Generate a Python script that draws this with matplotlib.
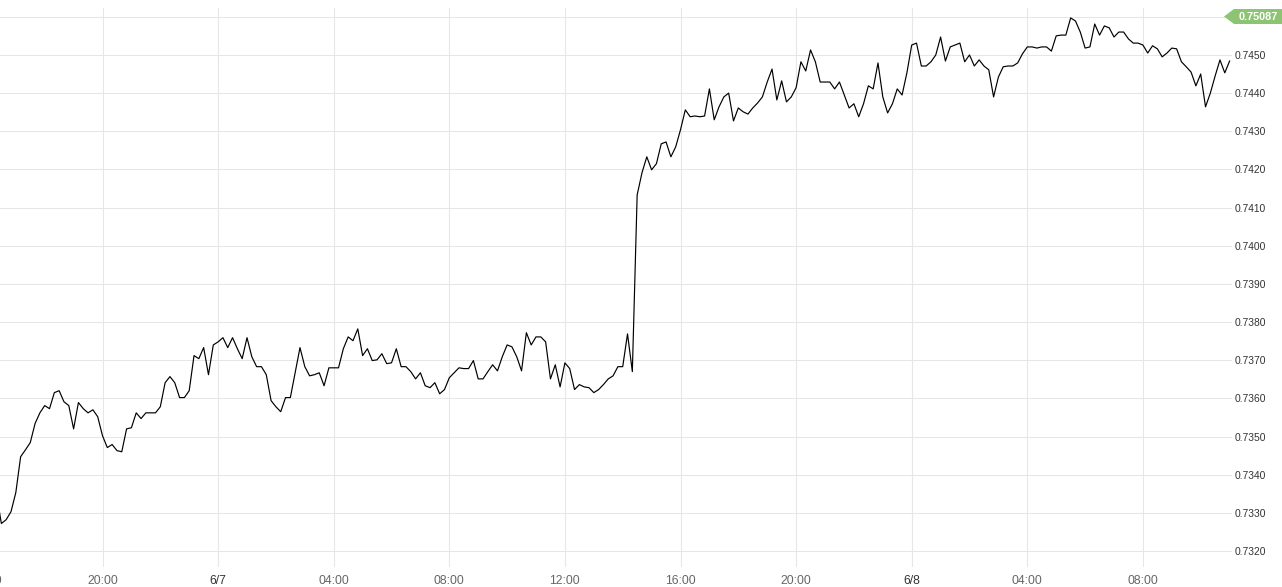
import matplotlib.pyplot as plt
from matplotlib.patches import Polygon

# 10-minute closes, starting 6/6 16:20
start_hour = 16 + 20 / 60
prices = [
    0.73348, 0.73272, 0.73282, 0.73303, 0.73353, 0.73447, 0.73465, 0.73484, 0.73534, 0.73562,
    0.73581, 0.73573, 0.73615, 0.73620, 0.73591, 0.73581, 0.73520, 0.73589, 0.73573, 0.73562,
    0.73570, 0.73552, 0.73502, 0.73471, 0.73479, 0.73463, 0.73460, 0.73520, 0.73523, 0.73562,
    0.73547, 0.73562, 0.73562, 0.73562, 0.73578, 0.73641, 0.73657, 0.73641, 0.73602, 0.73602,
    0.73620, 0.73712, 0.73704, 0.73733, 0.73662, 0.73740, 0.73748, 0.73759, 0.73733, 0.73759,
    0.73730, 0.73704, 0.73759, 0.73709, 0.73683, 0.73683, 0.73662, 0.73594, 0.73578, 0.73565,
    0.73602, 0.73602, 0.73667, 0.73733, 0.73683, 0.73659, 0.73662, 0.73667, 0.73633, 0.73680,
    0.73680, 0.73680, 0.73730, 0.73761, 0.73751, 0.73782, 0.73712, 0.73730, 0.73699, 0.73701,
    0.73717, 0.73691, 0.73693, 0.73730, 0.73683, 0.73683, 0.73670, 0.73651, 0.73667, 0.73633,
    0.73628, 0.73641, 0.73612, 0.73623, 0.73654, 0.73667, 0.73680, 0.73678, 0.73678, 0.73699,
    0.73651, 0.73651, 0.73670, 0.73688, 0.73672, 0.73709, 0.73740, 0.73735, 0.73709, 0.73672,
    0.73772, 0.73740, 0.73761, 0.73761, 0.73748, 0.73651, 0.73688, 0.73630, 0.73693, 0.73678,
    0.73623, 0.73636, 0.73630, 0.73628, 0.73615, 0.73623, 0.73636, 0.73651, 0.73659, 0.73683,
    0.73683, 0.73769, 0.73670, 0.74133, 0.74191, 0.74233, 0.74199, 0.74215, 0.74267, 0.74272,
    0.74233, 0.74259, 0.74304, 0.74356, 0.74338, 0.74340, 0.74338, 0.74340, 0.74411, 0.74330,
    0.74364, 0.74390, 0.74400, 0.74327, 0.74361, 0.74351, 0.74345, 0.74361, 0.74374, 0.74390,
    0.74429, 0.74463, 0.74382, 0.74432, 0.74377, 0.74390, 0.74414, 0.74482, 0.74458, 0.74513,
    0.74482, 0.74429, 0.74429, 0.74429, 0.74411, 0.74429, 0.74395, 0.74361, 0.74372, 0.74338,
    0.74372, 0.74419, 0.74411, 0.74479, 0.74390, 0.74348, 0.74372, 0.74411, 0.74395, 0.74453,
    0.74526, 0.74531, 0.74471, 0.74471, 0.74482, 0.74500, 0.74547, 0.74484, 0.74521, 0.74526,
    0.74531, 0.74482, 0.74500, 0.74471, 0.74487, 0.74471, 0.74461, 0.74390, 0.74442, 0.74469,
    0.74471, 0.74471, 0.74479, 0.74503, 0.74521, 0.74521, 0.74518, 0.74521, 0.74521, 0.74510,
    0.74550, 0.74552, 0.74552, 0.74597, 0.74589, 0.74560, 0.74518, 0.74521, 0.74581, 0.74552,
    0.74576, 0.74571, 0.74547, 0.74560, 0.74560, 0.74542, 0.74531, 0.74531, 0.74526, 0.74505,
    0.74524, 0.74516, 0.74495, 0.74505, 0.74518, 0.74516, 0.74482, 0.74469, 0.74455, 0.74419,
    0.74450, 0.74364, 0.74400, 0.74445, 0.74487, 0.74453, 0.74484,
]
hours = [start_hour + i / 6 for i in range(len(prices))]

# x in hours since 6/6 00:00
x_ticks = [20, 24, 28, 32, 36, 40, 44, 48, 52, 56]
x_labels = ['20:00', '6/7', '04:00', '08:00', '12:00', '16:00', '20:00', '6/8', '04:00', '08:00']
day_ticks = [24, 48]
y_ticks = [0.7320, 0.7330, 0.7340, 0.7350, 0.7360, 0.7370, 0.7380, 0.7390,
           0.7400, 0.7410, 0.7420, 0.7430, 0.7440, 0.7450, 0.7460]
last_label = '0.75087'

plt.rcParams['font.family'] = ['Liberation Sans', 'DejaVu Sans']

W, H = 1282, 587
fig = plt.figure(figsize=(W / 100, H / 100), dpi=100)
ax = fig.add_axes([0, 20 / H, 1232 / W, 559 / H])

ax.plot(hours, prices, color='black', lw=0.85, zorder=3)

ax.set_xlim(16.453, 59.083)
ax.set_ylim(0.73158, 0.74623)

for s in ax.spines.values():
    s.set_visible(False)

ax.set_xticks(x_ticks)
ax.set_xticklabels(x_labels)
# top gridline's label is covered by the last-price badge
ax.set_yticks(y_ticks)
ax.set_yticklabels(['%.4f' % v for v in y_ticks[:-1]] + [''])
ax.yaxis.tick_right()
ax.tick_params(axis='x', length=0, pad=6, labelsize=8.7, colors='#666666')
ax.tick_params(axis='y', length=0, pad=2, labelsize=7.4, colors='#333333')
for lbl, t in zip(ax.get_xticklabels(), x_ticks):
    if t in day_ticks:
        lbl.set_color('#333333')

ax.grid(True, color='#e6e6e6', lw=0.75, zorder=0)
for t in day_ticks:
    ax.axvline(t, color='#cccccc', lw=0.75, zorder=1)

# 16:00 label sits mostly off the left edge
ax.text(16, -8.5 / 559, '16:00', transform=ax.get_xaxis_transform(), ha='center', va='top',
        fontsize=8.7, color='#666666', clip_on=False)

# last price badge
pts = [(1224, 16.5), (1234, 9), (1282, 9), (1282, 24), (1234, 24)]
badge = Polygon([(px / W, 1 - py / H) for px, py in pts], closed=True,
                transform=fig.transFigure, facecolor='#8cc474', edgecolor='none')
fig.patches.append(badge)
fig.text(1258 / W, 1 - 16.5 / H, last_label, ha='center', va='center',
         color='white', fontsize=7.8, fontweight='bold')

fig.savefig('out.png', dpi=100)
